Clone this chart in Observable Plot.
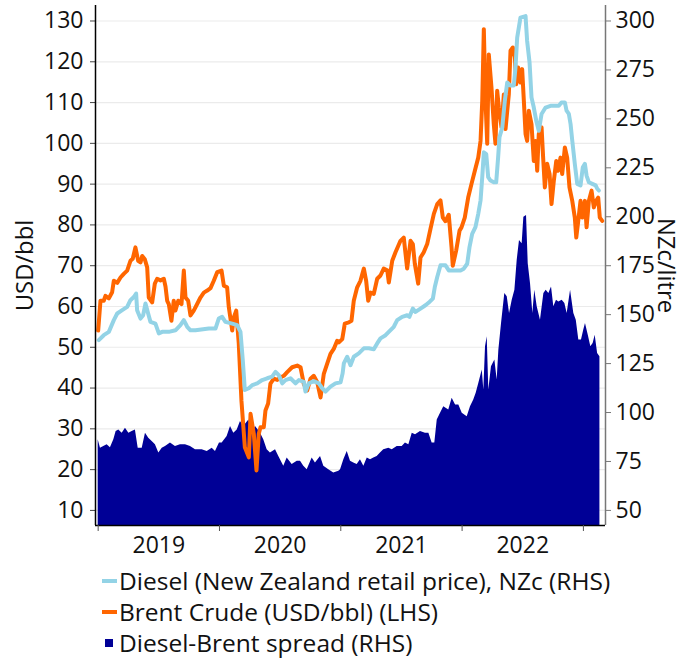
<!DOCTYPE html>
<html><head><meta charset="utf-8">
<script src="https://cdn.jsdelivr.net/npm/d3@7"></script>
<script src="https://cdn.jsdelivr.net/npm/@observablehq/plot@0.6"></script>
<style>
body{margin:0;background:#fff;font-family:"Open Sans",sans-serif;}
#legend{margin-top:5px;font-size:24.5px;line-height:31px;color:#111;}
.item{display:flex;align-items:center;padding-left:102px;white-space:nowrap;}
.sw{display:inline-block;width:15px;height:4px;margin-right:2px;}
.sq{display:inline-block;width:8px;height:8px;margin-left:3px;margin-right:6px;}
</style></head><body>
<div id="chart"></div>
<div id="legend"></div>
<script>
// time = years since 1 Jan 2019
const brentYears = [0.000,0.019,0.046,0.060,0.088,0.115,0.129,0.157,0.184,0.211,0.239,0.266,0.285,0.307,0.330,0.349,0.363,0.384,0.404,0.417,0.445,0.467,0.486,0.514,0.541,0.555,0.569,0.582,0.604,0.623,0.637,0.660,0.687,0.706,0.720,0.742,0.761,0.788,0.816,0.843,0.871,0.899,0.926,0.953,0.981,1.017,1.036,1.063,1.077,1.105,1.118,1.138,1.159,1.181,1.209,1.242,1.256,1.283,1.305,1.324,1.338,1.365,1.379,1.401,1.420,1.448,1.476,1.503,1.530,1.558,1.599,1.641,1.668,1.695,1.723,1.750,1.777,1.805,1.833,1.860,1.888,1.915,1.942,1.970,1.984,2.012,2.033,2.066,2.088,2.107,2.135,2.162,2.190,2.209,2.226,2.245,2.272,2.300,2.327,2.354,2.383,2.396,2.424,2.451,2.492,2.519,2.547,2.575,2.594,2.610,2.638,2.657,2.684,2.712,2.739,2.767,2.795,2.822,2.841,2.863,2.890,2.913,2.923,2.951,2.979,2.995,3.022,3.050,3.077,3.105,3.133,3.152,3.166,3.179,3.193,3.207,3.220,3.242,3.261,3.275,3.289,3.303,3.325,3.344,3.358,3.372,3.385,3.399,3.418,3.435,3.446,3.462,3.481,3.495,3.509,3.523,3.536,3.550,3.572,3.591,3.605,3.619,3.632,3.655,3.668,3.682,3.701,3.721,3.737,3.756,3.776,3.792,3.811,3.825,3.847,3.866,3.885,3.908,3.929,3.941,3.957,3.976,3.990,4.012,4.026,4.045,4.067,4.086,4.105,4.122,4.135,4.155];
const brentUSD = [54.1,61.4,61.4,62.6,62.0,63.5,66.3,65.8,67.1,68.0,68.8,71.2,71.7,74.5,71.2,70.8,72.4,71.6,69.6,62.2,61.0,65.6,66.8,66.4,66.8,64.9,61.4,60.6,56.5,61.4,59.0,61.4,60.6,68.8,62.2,61.4,57.8,59.0,60.6,62.2,63.4,63.9,64.5,66.3,68.4,68.8,65.1,64.7,59.8,54.1,57.3,59.0,50.9,36.9,25.5,23.0,33.7,28.8,19.8,28.8,30.4,30.4,34.5,36.2,41.1,42.3,42.0,42.6,43.0,43.9,45.1,45.5,45.1,41.0,39.4,42.3,43.0,41.5,37.7,43.5,46.0,48.4,49.6,51.6,51.2,52.0,55.8,56.1,56.5,61.4,64.7,66.3,69.3,66.3,61.4,63.4,63.1,66.8,67.6,69.3,68.9,65.9,71.2,73.3,76.1,76.9,69.3,76.1,75.3,70.5,65.6,72.0,73.3,75.3,79.0,82.7,85.1,86.0,81.8,80.9,82.5,74.5,70.0,73.7,78.6,79.4,81.8,86.7,90.0,93.3,96.5,100.6,110.4,128.0,110.4,99.9,121.8,113.7,104.7,99.9,112.9,108.8,103.9,112.0,103.5,108.0,112.0,122.7,123.5,121.0,114.5,118.6,114.9,118.2,110.4,102.3,100.6,108.0,104.7,95.7,100.6,93.3,102.3,103.9,96.5,89.2,95.0,92.5,85.1,90.8,95.7,93.3,96.5,92.5,99.0,96.5,89.2,85.9,81.8,76.9,80.9,85.9,81.8,85.9,79.4,85.9,88.4,84.3,85.9,86.7,81.8,81.0];

const dieselYears = [0.005,0.046,0.088,0.129,0.157,0.198,0.239,0.266,0.294,0.313,0.321,0.349,0.371,0.390,0.412,0.431,0.472,0.500,0.528,0.582,0.637,0.678,0.706,0.734,0.761,0.802,0.912,0.967,0.994,1.022,1.049,1.105,1.146,1.173,1.192,1.209,1.242,1.270,1.311,1.352,1.393,1.434,1.462,1.489,1.517,1.544,1.585,1.627,1.654,1.695,1.709,1.736,1.777,1.819,1.847,1.874,1.915,1.956,1.998,2.015,2.025,2.053,2.080,2.107,2.148,2.190,2.231,2.272,2.300,2.327,2.369,2.410,2.437,2.465,2.506,2.547,2.566,2.594,2.616,2.657,2.698,2.731,2.759,2.775,2.795,2.822,2.863,2.890,2.946,2.987,3.014,3.042,3.061,3.083,3.110,3.133,3.152,3.166,3.179,3.199,3.215,3.234,3.261,3.281,3.297,3.308,3.331,3.352,3.372,3.399,3.426,3.440,3.454,3.481,3.523,3.536,3.556,3.572,3.591,3.611,3.632,3.655,3.688,3.729,3.797,3.819,3.847,3.861,3.880,3.894,3.908,3.929,3.949,3.976,3.995,4.012,4.026,4.045,4.073,4.101,4.114,4.127];
const dieselNZc = [137.0,139.5,141.2,147.2,150.6,152.3,154.0,157.4,159.0,160.8,152.3,148.0,149.7,155.7,150.6,146.3,145.4,140.4,141.2,141.2,142.0,144.6,147.2,143.8,142.0,142.0,142.9,142.9,148.0,148.9,146.3,145.4,144.6,141.2,126.8,111.5,112.4,114.0,114.9,116.6,117.5,118.3,120.8,119.1,114.9,116.6,117.5,114.9,116.6,115.7,110.7,114.9,116.0,114.9,112.4,110.7,113.2,114.9,115.5,120.0,125.1,128.5,124.2,128.5,130.2,132.8,132.8,132.3,135.3,137.9,139.5,142.1,143.8,147.2,148.9,149.7,148.9,153.1,151.4,153.1,154.8,156.5,158.2,164.1,169.2,175.2,175.2,172.6,172.6,172.6,173.5,176.0,184.5,191.3,194.7,201.5,208.3,220.2,232.9,232.0,220.2,218.5,217.6,217.6,230.4,240.6,245.6,259.2,268.6,267.0,267.0,276.2,291.5,301.7,302.5,289.8,278.8,261.0,255.8,249.1,243.9,252.5,255.8,256.7,256.7,258.4,258.4,254.2,252.5,247.4,238.9,227.0,216.8,216.0,225.3,227.0,221.0,217.6,216.8,216.0,214.3,213.4];

const spreadYears = [0.000,0.019,0.046,0.074,0.101,0.129,0.148,0.170,0.198,0.225,0.253,0.280,0.307,0.330,0.363,0.390,0.417,0.445,0.472,0.500,0.528,0.555,0.596,0.637,0.678,0.720,0.761,0.802,0.857,0.899,0.940,0.967,1.000,1.022,1.063,1.091,1.118,1.146,1.173,1.200,1.242,1.270,1.297,1.319,1.338,1.365,1.393,1.420,1.462,1.489,1.530,1.558,1.599,1.641,1.668,1.695,1.723,1.764,1.791,1.833,1.860,1.901,1.942,1.984,1.998,2.025,2.053,2.080,2.107,2.135,2.162,2.190,2.218,2.245,2.272,2.300,2.327,2.354,2.396,2.424,2.465,2.506,2.533,2.561,2.589,2.616,2.657,2.698,2.726,2.753,2.775,2.795,2.822,2.849,2.890,2.918,2.946,2.973,3.001,3.042,3.069,3.096,3.116,3.138,3.166,3.179,3.193,3.207,3.220,3.242,3.270,3.289,3.303,3.325,3.352,3.372,3.391,3.413,3.435,3.454,3.473,3.495,3.509,3.531,3.545,3.564,3.583,3.599,3.619,3.646,3.674,3.693,3.715,3.737,3.756,3.778,3.797,3.825,3.847,3.866,3.894,3.921,3.941,3.962,3.984,4.003,4.017,4.040,4.061,4.080,4.097,4.117,4.136];
const spreadNZc = [86.1,81.8,82.7,83.5,82.0,86.1,90.3,91.1,89.4,92.0,89.4,90.3,91.1,81.8,81.8,89.4,86.9,85.2,83.5,79.3,81.8,82.7,84.4,82.7,83.5,83.5,82.7,81.0,81.0,80.1,81.8,80.1,84.4,84.4,87.8,92.9,89.4,91.1,95.4,92.9,96.2,89.4,92.9,91.1,89.4,86.1,81.0,79.3,81.0,77.6,72.5,76.8,73.4,75.1,75.1,72.5,70.8,76.8,74.2,77.6,72.5,70.8,69.1,70.0,70.8,75.9,80.1,75.1,74.2,73.4,75.9,72.5,76.8,75.9,76.8,77.6,79.3,81.0,81.8,81.0,82.7,82.7,84.4,83.5,89.4,88.6,90.3,89.4,89.4,84.4,84.4,96.2,99.6,103.0,101.3,107.3,103.8,103.8,99.6,97.9,103.0,106.4,109.8,114.9,121.7,111.5,133.6,138.7,111.5,123.4,126.8,116.6,131.9,145.5,160.8,159.1,150.6,157.4,162.5,177.7,187.9,186.2,199.8,200.7,176.0,165.8,150.6,162.5,154.0,147.2,160.8,162.5,160.8,164.1,154.0,157.4,156.5,157.4,155.7,150.6,162.5,150.6,147.2,137.0,137.0,142.1,145.5,139.5,133.6,135.3,139.5,130.2,128.5];

const leftTicks = [10,20,30,40,50,60,70,80,90,100,110,120,130];
const rightTicks = [50,75,100,125,150,175,200,225,250,275,300];
const yearTicks = [2019,2020,2021,2022,2023];
const yearLabels = ["2019","2020","2021","2022"];

const seriesNames = ["Diesel (New Zealand retail price), NZc (RHS)","Brent Crude (USD/bbl) (LHS)","Diesel-Brent spread (RHS)"];
const seriesColors = ["#93d3e6","#ff6600","#000096"];

// right axis (NZc/litre) is a linear rescale of left (USD/bbl): 50↔10, 300↔130
const toLeft = r => 10 + (r - 50) * 0.48;
const toRight = l => 50 + (l - 10) / 0.48;
const yDomain = [6.3, 133.8];
const xDomain = [2018.978, 2023.182];

const brent = brentYears.map((t, i) => ({x: 2019 + t, y: brentUSD[i]}));
const diesel = dieselYears.map((t, i) => ({x: 2019 + t, y: toLeft(dieselNZc[i])}));
const spread = spreadYears.map((t, i) => ({x: 2019 + t, y: toLeft(spreadNZc[i]), base: yDomain[0]}));

const chart = Plot.plot({
  width: 691, height: 560,
  marginLeft: 95, marginRight: 86, marginTop: 5, marginBottom: 35,
  style: {fontFamily: "'Open Sans', sans-serif", fontSize: "23px", color: "#111", background: "#fff", overflow: "visible"},
  x: {domain: xDomain},
  y: {domain: yDomain},
  marks: [
    Plot.gridY(leftTicks, {stroke: "#ebebeb", strokeOpacity: 1, strokeWidth: 1.2}),
    Plot.areaY(spread, {x: "x", y1: "base", y2: "y", fill: seriesColors[2]}),
    Plot.line(brent, {x: "x", y: "y", stroke: seriesColors[1], strokeWidth: 4, strokeLinejoin: "round"}),
    Plot.line(diesel, {x: "x", y: "y", stroke: seriesColors[0], strokeWidth: 4, strokeLinejoin: "round"}),
    Plot.axisY(leftTicks, {anchor: "left", tickSize: 5, tickPadding: 7, label: null, stroke: "#444", fontSize: 23}),
    Plot.axisY(rightTicks.map(toLeft), {anchor: "right", tickSize: 5, tickPadding: 5, label: null, stroke: "#777", fontSize: 23, tickFormat: d => String(Math.round(toRight(d)))}),
    Plot.ruleX([xDomain[0]], {stroke: "#000", strokeWidth: 1.5}),
    Plot.ruleX([xDomain[1]], {stroke: "#777", strokeWidth: 1.5}),
    Plot.ruleY([yDomain[0]], {stroke: "#000", strokeWidth: 1.5}),
    Plot.axisX(yearTicks, {tickSize: 6, tickFormat: () => "", label: null, stroke: "#555"}),
    Plot.axisX(yearLabels.map(s => +s + 0.5), {tickSize: 0, tickPadding: 11, label: null, fontSize: 23, tickFormat: d => String(Math.floor(d))}),
    Plot.text(["USD/bbl"], {frameAnchor: "left", textAnchor: "middle", dx: -70, rotate: -90, fontSize: 23.8, fill: "#111"}),
    Plot.text(["NZc/litre"], {frameAnchor: "right", textAnchor: "middle", dx: 60, rotate: 90, fontSize: 23.8, fill: "#111"})
  ]
});
document.getElementById("chart").appendChild(chart);

const legend = document.getElementById("legend");
seriesNames.forEach((name, i) => {
  const row = document.createElement("div");
  row.className = "item";
  const sw = document.createElement("span");
  sw.className = i === 2 ? "sq" : "sw";
  sw.style.background = seriesColors[i];
  row.appendChild(sw);
  row.appendChild(document.createTextNode(name));
  legend.appendChild(row);
});
</script>
</body></html>
